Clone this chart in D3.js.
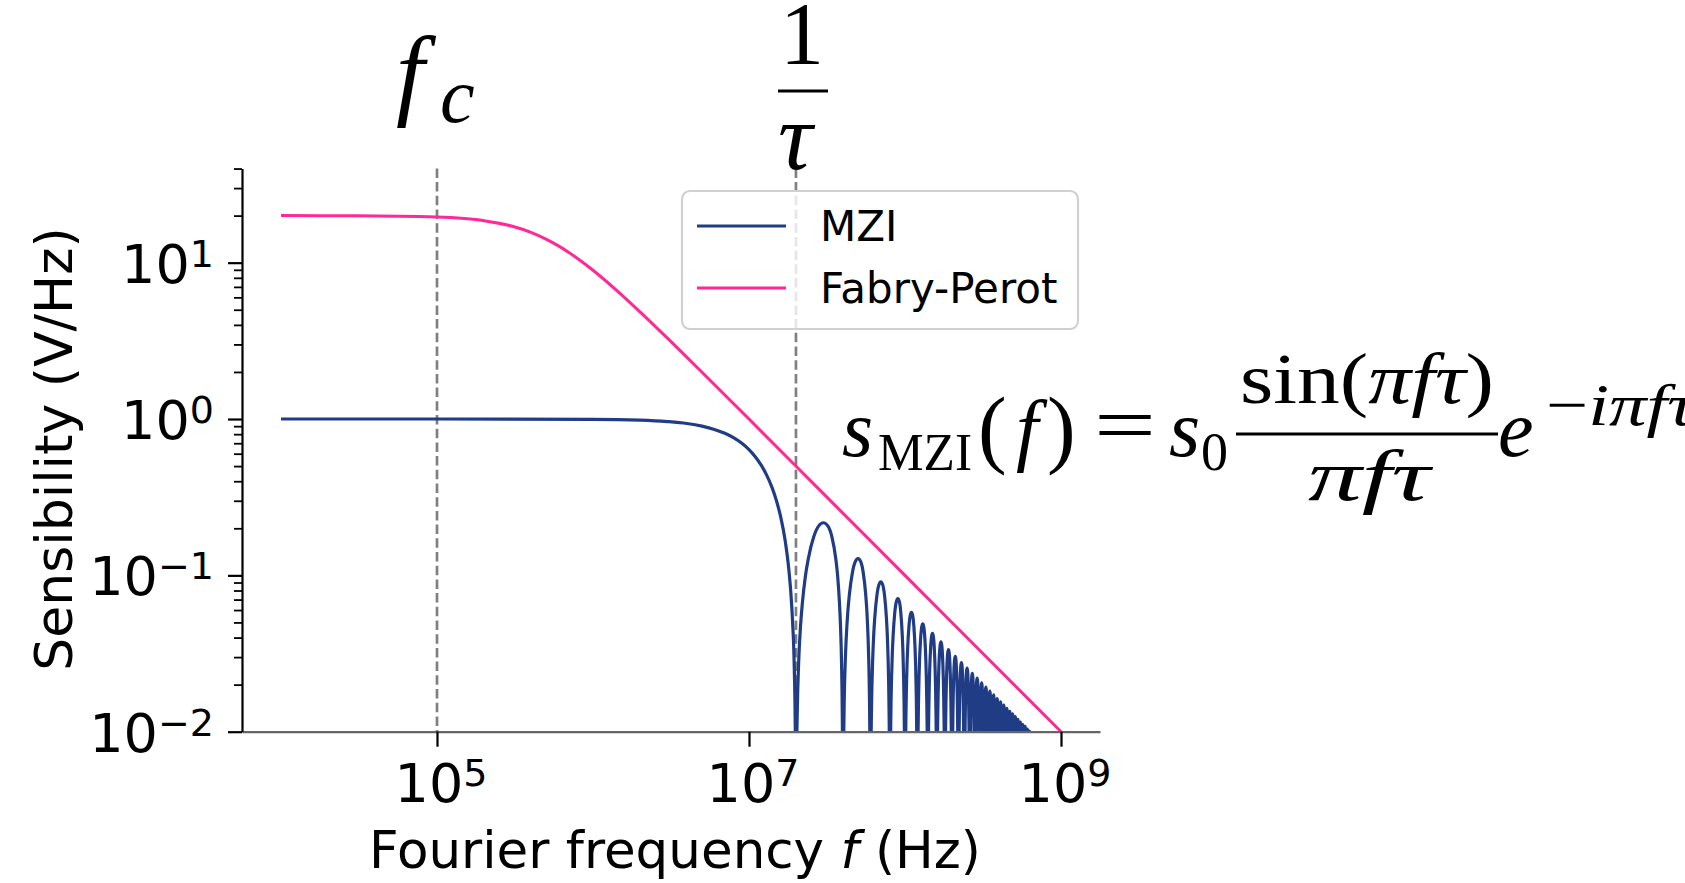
<!DOCTYPE html>
<html>
<head>
<meta charset="utf-8">
<script src="https://cdn.jsdelivr.net/npm/d3@7"></script>
<style>
  body { margin: 0; background: #fff; }
  svg { display: block; }
  text { font-family: "DejaVu Sans", sans-serif; fill: #000; }
  .math { font-family: "Liberation Serif", serif; }
</style>
</head>
<body>
<div id="chart-area"></div>
<script>

var width = 1685,
    height = 883;

// Tick exponents (labels are 10^k)
var xTickExp = [5, 7, 9];
var yTickExp = [-2, -1, 0, 1];

// Fabry-Perot sensitivity
var fpFreq = [1e4, 3e4, 1e5, 1.5e5, 2e5, 3e5, 4e5, 5e5, 6e5, 7e5, 8e5, 1e6, 1.5e6,
              2e6, 3e6, 5e6, 1e7, 3e7, 1e8, 3e8, 1e9];
var fpSens = [20.0, 19.96, 19.61, 19.16, 18.57, 17.15, 15.62, 14.14, 12.80, 11.63, 10.60, 8.94, 6.32,
              4.85, 3.29, 1.99, 1.00, 0.333, 0.100, 0.0333, 0.0100];

// MZI main lobe
var mziFreq = [1e4, 1e5, 1e6, 2e6, 3e6, 4e6, 5e6, 6e6, 7e6, 8e6, 9e6, 1e7, 1.1e7, 1.2e7,
               1.3e7, 1.4e7, 1.5e7, 1.6e7, 1.7e7, 1.8e7, 1.85e7, 1.9e7, 1.95e7, 1.98e7, 1.995e7];
var mziSens = [1.0, 1.0, 0.996, 0.984, 0.963, 0.936, 0.900, 0.858, 0.810, 0.757, 0.699, 0.637, 0.572, 0.505,
               0.436, 0.368, 0.300, 0.234, 0.170, 0.109, 0.080, 0.052, 0.026, 0.010, 0.0025];

// MZI side lobes: zeros of the response and the peak reached between two zeros
var lobeZeros = [2e7, 4e7, 6e7, 8e7, 1.0e8, 1.2e8, 1.4e8, 1.6e8, 1.8e8, 2.0e8, 2.2e8,
                 2.4e8, 2.6e8, 2.8e8, 3.0e8, 3.2e8, 3.4e8, 3.6e8, 3.8e8, 4.0e8, 4.2e8,
                 4.4e8, 4.6e8, 4.8e8, 5.0e8, 5.2e8, 5.4e8, 5.6e8, 5.8e8, 6.0e8, 6.2e8, 6.4e8];
var lobePeaks = [0.217, 0.128, 0.091, 0.071, 0.058, 0.049, 0.0425, 0.0375, 0.0335, 0.0303,
                 0.0277, 0.0255, 0.0236, 0.0220, 0.0205, 0.0193, 0.0182, 0.0172, 0.0163, 0.0155,
                 0.0148, 0.0141, 0.0135, 0.0130, 0.0125, 0.0120, 0.0115, 0.0111, 0.0108, 0.0104, 0.0101];

// outline of one side lobe: position across the lobe, decades below the peak
var lobeU    = [0.003, 0.01, 0.02, 0.04, 0.07, 0.1, 0.15, 0.2, 0.3, 0.4, 0.5,
                0.6, 0.7, 0.8, 0.85, 0.9, 0.93, 0.96, 0.98, 0.99, 0.997];
var lobeDrop = [2.03, 1.50, 1.20, 0.90, 0.66, 0.51, 0.34, 0.23, 0.09, 0.02, 0,
                0.02, 0.09, 0.23, 0.34, 0.51, 0.66, 0.90, 1.20, 1.50, 2.03];

// vertical markers: f_c and 1/tau
var markerFreq = [1e5, 2e7];

var seriesNames = ["MZI", "Fabry-Perot"];
var seriesColors = ["#1f3c85", "#ff2896"];


var svg = d3.select("#chart-area").append("svg")
    .attr("width", width)
    .attr("height", height);

var plot = {left: 242, right: 1100, top: 168.4, bottom: 731.7};

var x = d3.scaleLog()
    .domain([Math.pow(10, 3.75), Math.pow(10, 9.25)])
    .range([plot.left, plot.right]);

var y = d3.scaleLog()
    .domain([1e-2, Math.pow(10, 1.603)])
    .range([plot.bottom, plot.top]);

svg.append("clipPath").attr("id", "clip")
    .append("rect")
    .attr("x", plot.left).attr("y", plot.top)
    .attr("width", plot.right - plot.left)
    .attr("height", plot.bottom - plot.top);

// Build the point lists
var fpPoints = fpFreq.map(function(f, i) { return {f: f, s: fpSens[i]}; });

var mziPoints = mziFreq.map(function(f, i) { return {f: f, s: mziSens[i]}; });
lobePeaks.forEach(function(p, n) {
    var f0 = lobeZeros[n], f1 = lobeZeros[n + 1];
    lobeU.forEach(function(u, k) {
        mziPoints.push({f: f0 + u * (f1 - f0), s: p / Math.pow(10, lobeDrop[k])});
    });
});

var line = d3.line()
    .x(function(d) { return x(d.f); })
    .y(function(d) { return y(d.s); })
    .curve(d3.curveMonotoneX);

// Dashed markers
svg.selectAll(".marker")
    .data(markerFreq)
    .enter().append("line")
    .attr("class", "marker")
    .attr("x1", function(d) { return x(d); })
    .attr("x2", function(d) { return x(d); })
    .attr("y1", plot.top)
    .attr("y2", plot.bottom)
    .attr("stroke", "#808080")
    .attr("stroke-width", 2.7)
    .attr("stroke-dasharray", "9.5,4.2");

var lines = svg.append("g").attr("clip-path", "url(#clip)");

lines.append("path")
    .datum(mziPoints)
    .attr("d", line)
    .attr("fill", "none")
    .attr("stroke", seriesColors[0])
    .attr("stroke-width", 3.2)
    .attr("stroke-linejoin", "round");

lines.append("path")
    .datum(fpPoints)
    .attr("d", line)
    .attr("fill", "none")
    .attr("stroke", seriesColors[1])
    .attr("stroke-width", 3);

// Axes
var xAxis = svg.append("g")
    .attr("transform", "translate(0," + plot.bottom + ")")
    .call(d3.axisBottom(x)
        .tickValues(xTickExp.map(function(k) { return Math.pow(10, k); }))
        .tickSize(15).tickSizeOuter(0).tickFormat(""));
xAxis.select(".domain").attr("stroke", "#666").attr("stroke-width", 2.2);
xAxis.selectAll(".tick line").attr("stroke", "#000").attr("stroke-width", 2.2);

var yMinor = [];
[-2, -1, 0, 1].forEach(function(k) {
    for (var m = 2; m <= 9; m++) {
        var v = m * Math.pow(10, k);
        if (v <= y.domain()[1]) yMinor.push(v);
    }
});

var yAxisMinor = svg.append("g")
    .attr("transform", "translate(" + plot.left + ",0)")
    .call(d3.axisLeft(y).tickValues(yMinor).tickSize(8).tickSizeOuter(0).tickFormat(""));
yAxisMinor.select(".domain").remove();
yAxisMinor.selectAll(".tick line").attr("stroke", "#000").attr("stroke-width", 1.8);

var yAxis = svg.append("g")
    .attr("transform", "translate(" + plot.left + ",0)")
    .call(d3.axisLeft(y)
        .tickValues(yTickExp.map(function(k) { return Math.pow(10, k); }))
        .tickSize(14).tickSizeOuter(0).tickFormat(""));
yAxis.select(".domain").attr("stroke", "#000").attr("stroke-width", 2.2);
yAxis.selectAll(".tick line").attr("stroke", "#000").attr("stroke-width", 2.2);

function expLabel(sel, k) {
    sel.text("10");
    sel.append("tspan")
        .attr("dy", -16)
        .attr("font-size", 38)
        .text(k < 0 ? "\u2212" + (-k) : k);
}

svg.selectAll(".xlab")
    .data(xTickExp)
    .enter().append("text")
    .attr("class", "xlab")
    .attr("x", function(d) { return x(Math.pow(10, d)) + 4; })
    .attr("y", 802)
    .attr("text-anchor", "middle")
    .attr("font-size", 54)
    .each(function(d) { expLabel(d3.select(this), d); });

svg.selectAll(".ylab")
    .data(yTickExp)
    .enter().append("text")
    .attr("class", "ylab")
    .attr("x", 214)
    .attr("y", function(d) { return y(Math.pow(10, d)) + 20; })
    .attr("text-anchor", "end")
    .attr("font-size", 54)
    .each(function(d) { expLabel(d3.select(this), d); });

// Axis titles
var xTitle = svg.append("text")
    .attr("x", (plot.left + plot.right) / 2 + 4)
    .attr("y", 868)
    .attr("text-anchor", "middle")
    .attr("font-size", 51.5)
    .text("Fourier frequency ");
xTitle.append("tspan").attr("font-style", "italic").text("f");
xTitle.append("tspan").text(" (Hz)");

svg.append("text")
    .attr("transform", "translate(72,449) rotate(-90)")
    .attr("text-anchor", "middle")
    .attr("font-size", 52)
    .text("Sensibility (V/Hz)");

// Legend
var legend = svg.append("g");
legend.append("rect")
    .attr("x", 682).attr("y", 191)
    .attr("width", 396).attr("height", 138)
    .attr("rx", 8)
    .attr("fill", "#fff").attr("fill-opacity", 0.8)
    .attr("stroke", "#d0d0d0").attr("stroke-width", 2.2);

legend.selectAll(".item")
    .data(seriesNames)
    .enter().append("g")
    .attr("class", "item")
    .attr("transform", function(d, i) { return "translate(0," + (226 + i * 62) + ")"; })
    .each(function(d, i) {
        var g = d3.select(this);
        g.append("line")
            .attr("x1", 697).attr("x2", 786)
            .attr("stroke", seriesColors[i]).attr("stroke-width", 3);
        g.append("text")
            .attr("x", 820).attr("y", 15)
            .attr("font-size", 42)
            .text(d);
    });

// Math annotations
function mathText(xp, yp, size, str, italic, len) {
    var t = svg.append("text")
        .attr("class", "math")
        .attr("x", xp).attr("y", yp)
        .attr("font-size", size)
        .attr("font-style", italic ? "italic" : "normal")
        .text(str);
    if (len) t.attr("textLength", len).attr("lengthAdjust", "spacingAndGlyphs");
    return t;
}

// f_c
mathText(396, 106, 102, "f", true);
mathText(440, 122, 78, "c", true);

// 1/tau
mathText(780, 63, 88, "1", false);
svg.append("line").attr("x1", 778).attr("x2", 828).attr("y1", 91).attr("y2", 91)
    .attr("stroke", "#000").attr("stroke-width", 3);
mathText(778, 169, 96, "\u03c4", true);

// s_MZI(f) = s_0 sin(pi f tau)/(pi f tau) e^{-i pi f tau}
mathText(842, 456, 80, "s", true);
mathText(878, 470, 52, "MZI", false, 94);
mathText(978, 457, 86, "(", false);
mathText(1016, 456, 80, "f", true);
mathText(1047, 457, 86, ")", false);
mathText(1094, 452, 80, "=", false, 62);
mathText(1169, 456, 80, "s", true);
mathText(1201, 470, 54, "0", false);
var num = mathText(1240, 403, 72, "sin(", false, 254);
num.append("tspan").attr("font-style", "italic").text("\u03c0f\u03c4");
num.append("tspan").text(")");
svg.append("line").attr("x1", 1236).attr("x2", 1498).attr("y1", 434).attr("y2", 434)
    .attr("stroke", "#000").attr("stroke-width", 3);
mathText(1308, 500, 72, "\u03c0f\u03c4", true, 122);
mathText(1498, 456, 80, "e", true);
var ex = mathText(1546, 425, 60, "\u2212", false, 148);
ex.append("tspan").attr("font-style", "italic").text("i\u03c0f\u03c4");

</script>
</body>
</html>
